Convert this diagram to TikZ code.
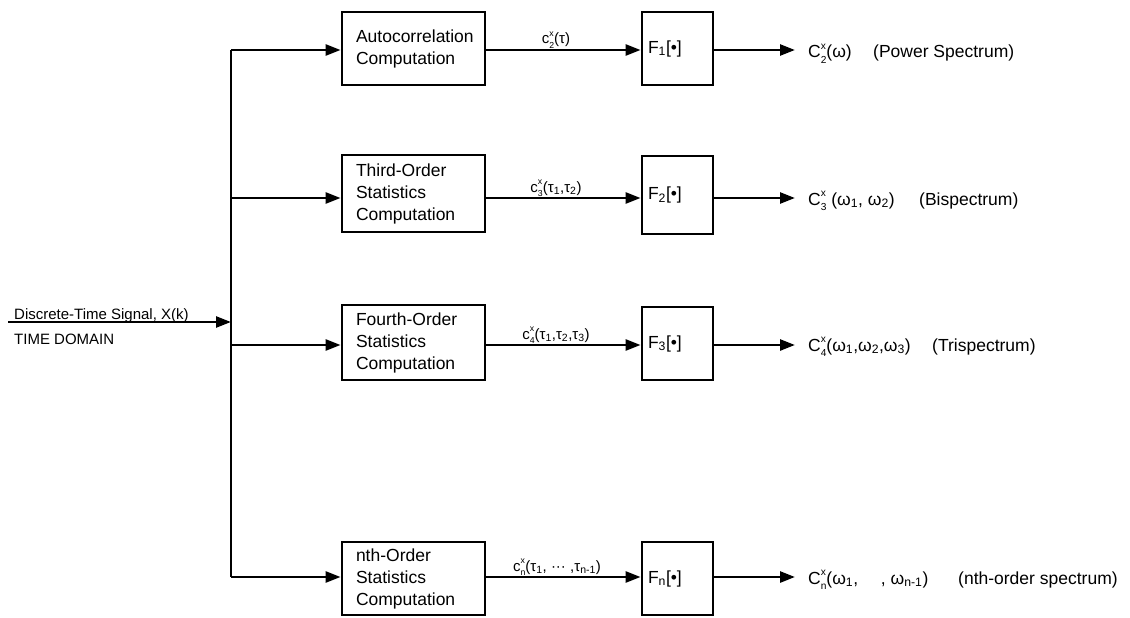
\documentclass[tikz,border=0pt]{standalone}
\usepackage{fontspec}
\setmainfont{Liberation Sans}
\usetikzlibrary{arrows.meta}
\newcommand\supsub[2]{\rlap{\raisebox{.48em}{\scalebox{.58}{#1}}}\raisebox{-.3em}{\scalebox{.58}{#2}}}
\begin{document}
\begin{tikzpicture}[x=1pt,y=-1pt,
  ln/.style={line width=2.6pt},
  arr/.style={line width=2.6pt,-{Triangle[length=15pt,width=11pt]}},
  proc/.style={draw,line width=2.8pt,minimum width=143pt,text width=115pt,inner xsep=14pt,align=left,
    font=\fontsize{17.5}{22}\selectfont},
  fblk/.style={draw,line width=2.8pt,minimum width=71pt,text width=59pt,inner xsep=6pt,align=left,
    font=\fontsize{17.5}{20}\selectfont},
  lab/.style={font=\fontsize{15}{16}\selectfont,anchor=base,inner sep=0pt},
  outf/.style={font=\fontsize{17.5}{20}\selectfont,anchor=base west,inner sep=0pt},
  intext/.style={font=\fontsize{15}{17}\selectfont,anchor=base west,inner sep=0pt},
]
\useasboundingbox (0,0) rectangle (1130,618);

% bus coordinates
\coordinate (in0) at (8,322);
\coordinate (bin) at (231,322);
\coordinate (b1) at (231,50);
\coordinate (b2) at (231,198);
\coordinate (b3) at (231,345);
\coordinate (b4) at (231,577);

% input
\node[intext] (sig) at (14,319) {Discrete-Time Signal, X(k)};
\node[intext] (td) at (14,344) {TIME DOMAIN};
\draw[arr] (in0) -- (bin);
\draw[ln] (b1) -- (b4);

% processing boxes
\node[proc,minimum height=73pt] (p1) at (413.5,48.5) {Autocorrelation\\Computation};
\node[proc,minimum height=77pt] (p2) at (413.5,193.5) {Third-Order\\Statistics\\Computation};
\node[proc,minimum height=75pt] (p3) at (413.5,342.5) {Fourth-Order\\Statistics\\Computation};
\node[proc,minimum height=73pt] (p4) at (413.5,578.5) {nth-Order\\Statistics\\Computation};

% F boxes
\node[fblk,minimum height=73pt] (f1) at (677.5,48.5) {F\textsubscript{1}[•]};
\node[fblk,minimum height=78pt] (f2) at (677.5,195) {F\textsubscript{2}[•]};
\node[fblk,minimum height=73pt] (f3) at (677.5,343.5) {F\textsubscript{3}[•]};
\node[fblk,minimum height=73pt] (f4) at (677.5,578.5) {F\textsubscript{n}[•]};

% bus to boxes
\draw[arr] (b1) -- (p1.west |- b1);
\draw[arr] (b2) -- (p2.west |- b2);
\draw[arr] (b3) -- (p3.west |- b3);
\draw[arr] (b4) -- (p4.west |- b4);

% boxes to F
\draw[arr] (p1.east |- b1) -- (f1.west |- b1);
\draw[arr] (p2.east |- b2) -- (f2.west |- b2);
\draw[arr] (p3.east |- b3) -- (f3.west |- b3);
\draw[arr] (p4.east |- b4) -- (f4.west |- b4);

% middle labels
\node[lab] (c1) at (556,44) {c\supsub{x}{2}(τ)};
\node[lab] (c2) at (556,192) {c\supsub{x}{3}(τ\textsubscript{1},τ\textsubscript{2})};
\node[lab] (c3) at (556,339) {c\supsub{x}{4}(τ\textsubscript{1},τ\textsubscript{2},τ\textsubscript{3})};
\node[lab] (c4) at (557,571) {c\supsub{x}{n}(τ\textsubscript{1}, ··· ,τ\textsubscript{n-1})};

% outputs
\node[outf] (o1) at (808,58) {C\supsub{x}{2}(ω)};
\node[outf] (d1) at (873,58) {(Power Spectrum)};
\node[outf] (o2) at (808,205) {C\supsub{x}{3} (ω\textsubscript{1}, ω\textsubscript{2})};
\node[outf] (d2) at (919,205) {(Bispectrum)};
\node[outf] (o3) at (808,351) {C\supsub{x}{4}(ω\textsubscript{1},ω\textsubscript{2},ω\textsubscript{3})};
\node[outf] (d3) at (932,351) {(Trispectrum)};
\node[outf] (o4) at (808,584) {C\supsub{x}{n}(ω\textsubscript{1},\hspace{1.3em}, ω\textsubscript{n-1})};
\node[outf] (d4) at (958,584) {(nth-order spectrum)};

\draw[arr] (f1.east |- b1) -- ([xshift=-13pt]o1.west |- b1);
\draw[arr] (f2.east |- b2) -- ([xshift=-13pt]o2.west |- b2);
\draw[arr] (f3.east |- b3) -- ([xshift=-13pt]o3.west |- b3);
\draw[arr] (f4.east |- b4) -- ([xshift=-13pt]o4.west |- b4);
\end{tikzpicture}
\end{document}
